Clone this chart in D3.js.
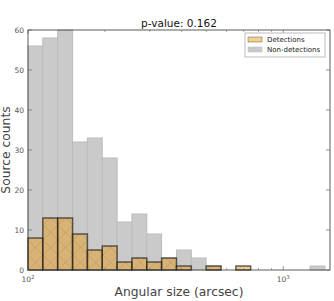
<!DOCTYPE html>
<html>
<head>
<meta charset="utf-8">
<script src="https://cdn.jsdelivr.net/npm/d3@7.9.0/dist/d3.min.js"></script>
<style>
  body { margin: 0; background: #fff; }
  svg { font-family: "DejaVu Sans", sans-serif; }
</style>
</head>
<body>
<div id="chart"></div>
<script>
// Histogram of angular sizes, log-spaced bins
const binEdges = [100, 114.3, 130.7, 149.5, 170.9, 195.4, 223.4, 255.4, 292.0, 333.8,
  381.7, 436.4, 498.9, 570.4, 652.2, 745.6, 852.5, 974.7, 1114, 1274, 1457];
const nonDetections = [56, 58, 60, 32, 33, 28, 12, 14, 9, 3, 5, 3, 1, 0, 0, 0, 0, 0, 0, 1];
const detections = [8, 13, 13, 9, 5, 6, 2, 3, 2, 3, 1, 0, 1, 0, 1, 0, 0, 0, 0, 0];
const yTicks = [0, 10, 20, 30, 40, 50, 60];
const xMinorTicks = [200, 300, 400, 500, 600, 700, 800, 900];
const xMajorTicks = [100, 1000];
const seriesNames = ["Detections", "Non-detections"];
const title = "p-value: 0.162";

const W = 334, H = 301;
const margin = { top: 30, right: 4, bottom: 31, left: 28 };
const width = W - margin.left - margin.right;
const height = H - margin.top - margin.bottom;

const detFill = "rgba(232,152,22,0.47)";
const detEdge = "rgba(30,30,30,0.68)";
const nonFill = "#cacaca";
const nonEdge = "#bcbcbc";

const svg = d3.select("#chart").append("svg")
  .attr("width", W).attr("height", H);

const defs = svg.append("defs");
const pat = defs.append("pattern")
  .attr("id", "hatch")
  .attr("patternUnits", "userSpaceOnUse")
  .attr("width", 15).attr("height", 15);
pat.append("path")
  .attr("d", "M0,0L15,15M15,0L0,15M-1,14L1,16M14,-1L16,1")
  .attr("stroke", "rgba(60,50,30,0.22)")
  .attr("stroke-width", 0.6);

const g = svg.append("g").attr("transform", `translate(${margin.left},${margin.top})`);

const x = d3.scaleLog().domain([100, 1525]).range([0, width]);
const y = d3.scaleLinear().domain([0, 60]).range([height, 0]);

const bins = nonDetections.map((v, i) => ({
  x0: binEdges[i], x1: binEdges[i + 1], non: v, det: detections[i]
}));

// non-detections
g.selectAll(".non").data(bins.filter(d => d.non > 0)).enter().append("rect")
  .attr("x", d => x(d.x0))
  .attr("width", d => x(d.x1) - x(d.x0))
  .attr("y", d => y(d.non))
  .attr("height", d => y(0) - y(d.non))
  .attr("fill", nonFill)
  .attr("stroke", nonEdge)
  .attr("stroke-width", 1);

// detections
const detG = g.selectAll(".det").data(bins.filter(d => d.det > 0)).enter().append("g");
detG.append("rect")
  .attr("x", d => x(d.x0))
  .attr("width", d => x(d.x1) - x(d.x0))
  .attr("y", d => y(d.det))
  .attr("height", d => y(0) - y(d.det))
  .attr("fill", detFill);
detG.append("rect")
  .attr("x", d => x(d.x0))
  .attr("width", d => x(d.x1) - x(d.x0))
  .attr("y", d => y(d.det))
  .attr("height", d => y(0) - y(d.det))
  .attr("fill", "url(#hatch)")
  .attr("stroke", detEdge)
  .attr("stroke-width", 1.5);

// frame
g.append("rect").attr("width", width).attr("height", height)
  .attr("fill", "none").attr("stroke", "#333").attr("stroke-width", 0.8);

const tickCol = "#555";
// y ticks (inward, both sides)
yTicks.forEach(t => {
  g.append("line").attr("x1", 0).attr("x2", 4).attr("y1", y(t)).attr("y2", y(t))
    .attr("stroke", tickCol).attr("stroke-width", 0.6);
  g.append("line").attr("x1", width).attr("x2", width - 4).attr("y1", y(t)).attr("y2", y(t))
    .attr("stroke", tickCol).attr("stroke-width", 0.6);
  g.append("text").attr("x", -4).attr("y", y(t)).attr("dy", "0.35em")
    .attr("text-anchor", "end").attr("font-size", 7.5).attr("fill", "#555").text(t);
});

// x ticks
xMajorTicks.forEach(t => {
  g.append("line").attr("x1", x(t)).attr("x2", x(t)).attr("y1", height).attr("y2", height - 4)
    .attr("stroke", tickCol).attr("stroke-width", 0.6);
  g.append("line").attr("x1", x(t)).attr("x2", x(t)).attr("y1", 0).attr("y2", 4)
    .attr("stroke", tickCol).attr("stroke-width", 0.6);
  const lab = g.append("text").attr("x", x(t)).attr("y", height + 12)
    .attr("text-anchor", "middle").attr("font-size", 7.5).attr("fill", "#555");
  lab.append("tspan").text("10");
  lab.append("tspan").attr("dy", -3).attr("font-size", 5.5).text(Math.round(Math.log10(t)));
});
xMinorTicks.forEach(t => {
  g.append("line").attr("x1", x(t)).attr("x2", x(t)).attr("y1", height).attr("y2", height - 2)
    .attr("stroke", tickCol).attr("stroke-width", 0.5);
  g.append("line").attr("x1", x(t)).attr("x2", x(t)).attr("y1", 0).attr("y2", 2)
    .attr("stroke", tickCol).attr("stroke-width", 0.5);
});

// title and labels
svg.append("text").attr("x", margin.left + width / 2).attr("y", 27)
  .attr("text-anchor", "middle").attr("font-size", 10.5).attr("fill", "#111").text(title);
svg.append("text").attr("x", margin.left + width / 2).attr("y", 296)
  .attr("text-anchor", "middle").attr("font-size", 12.3).attr("fill", "#444")
  .text("Angular size (arcsec)");
svg.append("text").attr("transform", `translate(10,${margin.top + height / 2}) rotate(-90)`)
  .attr("text-anchor", "middle").attr("font-size", 12.3).attr("fill", "#444")
  .text("Source counts");

// legend
const lg = svg.append("g").attr("transform", "translate(245,33)");
lg.append("rect").attr("width", 80).attr("height", 24)
  .attr("fill", "#fff").attr("stroke", "#aaa").attr("stroke-width", 0.8);
const swatches = [
  { fill: detFill, stroke: detEdge },
  { fill: nonFill, stroke: nonEdge }
];
seriesNames.forEach((name, i) => {
  lg.append("rect").attr("x", 3).attr("y", 4 + i * 10).attr("width", 14).attr("height", 5)
    .attr("fill", swatches[i].fill).attr("stroke", swatches[i].stroke).attr("stroke-width", 0.5);
  lg.append("text").attr("x", 22).attr("y", 6.5 + i * 10).attr("dy", "0.35em")
    .attr("font-size", 7).attr("fill", "#222").text(name);
});
</script>
</body>
</html>
